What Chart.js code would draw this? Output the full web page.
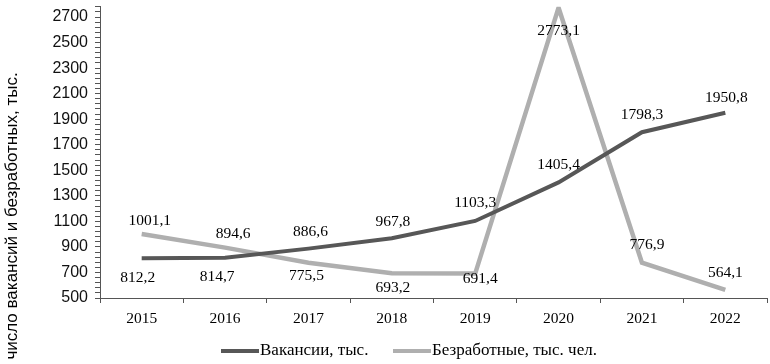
<!DOCTYPE html>
<html>
<head>
<meta charset="utf-8">
<script src="https://cdn.jsdelivr.net/npm/chart.js@4.4.1/dist/chart.umd.min.js"></script>
<style>
html,body{margin:0;padding:0;background:#fff;}
#wrap{width:770px;height:364px;position:relative;}
</style>
</head>
<body>
<div id="wrap"><canvas id="c" width="770" height="364"></canvas></div>
<script>
const years = ['2015','2016','2017','2018','2019','2020','2021','2022'];
const vacancies = [812.2, 814.7, 886.6, 967.8, 1103.3, 1405.4, 1798.3, 1950.8];
const unemployed = [1001.1, 894.6, 775.5, 693.2, 691.4, 2773.1, 776.9, 564.1];
const seriesNames = ['Вакансии, тыс.', 'Безработные, тыс. чел.'];
const yAxisTitle = 'число вакансий и безработных, тыс.';

const SERIF = "'Liberation Serif', 'Times New Roman', serif";
const SANS = "'Liberation Sans', Arial, sans-serif";
const DARK = '#575757';
const LIGHT = '#afafaf';

// label offsets [dx, dy] relative to point, per dataset
const labelOffsets = [
  [[-4,20],[-8,19],[2,-17],[1,-16],[0,-18],[0,-17],[0,-17],[1,-15]],
  [[8,-13],[8,-14],[-2,13],[1,15],[5,5],[0,23],[5,-18],[0,-17]]
];

function fmt(v){ return v.toFixed(1).replace('.', ','); }

const labelPlugin = {
  id: 'valueLabels',
  afterDatasetsDraw(chart){
    const ctx = chart.ctx;
    ctx.save();
    ctx.font = '15.5px ' + SERIF;
    ctx.fillStyle = '#000';
    ctx.textAlign = 'center';
    ctx.textBaseline = 'middle';
    chart.data.datasets.forEach((ds, di) => {
      const meta = chart.getDatasetMeta(di);
      meta.data.forEach((pt, i) => {
        const o = labelOffsets[di][i];
        ctx.fillText(fmt(ds.data[i]), pt.x + o[0], pt.y + o[1]);
      });
    });
    ctx.restore();
  }
};

const decoPlugin = {
  id: 'deco',
  afterDraw(chart){
    const ctx = chart.ctx;
    ctx.save();
    // y axis title
    ctx.translate(12, 216);
    ctx.rotate(-Math.PI/2);
    ctx.font = '17px ' + SANS;
    ctx.fillStyle = '#000';
    ctx.textAlign = 'center';
    ctx.textBaseline = 'middle';
    ctx.fillText(yAxisTitle, 0, 0);
    ctx.restore();
    // legend
    ctx.save();
    ctx.font = '17px ' + SERIF;
    ctx.textBaseline = 'middle';
    ctx.textAlign = 'left';
    const items = [
      {x0:221, x1:259, tx:260, color:DARK, text:seriesNames[0]},
      {x0:393, x1:431, tx:432, color:LIGHT, text:seriesNames[1]}
    ];
    items.forEach(it => {
      ctx.strokeStyle = it.color;
      ctx.lineWidth = 4;
      ctx.beginPath();
      ctx.moveTo(it.x0, 351);
      ctx.lineTo(it.x1, 351);
      ctx.stroke();
      ctx.fillStyle = '#000';
      ctx.fillText(it.text, it.tx, 351);
    });
    ctx.restore();
  }
};

new Chart(document.getElementById('c'), {
  type: 'line',
  data: {
    labels: years,
    datasets: [
      {label: seriesNames[0], data: vacancies, borderColor: DARK, backgroundColor: DARK, borderWidth: 4, pointRadius: 0, tension: 0},
      {label: seriesNames[1], data: unemployed, borderColor: LIGHT, backgroundColor: LIGHT, borderWidth: 4.5, pointRadius: 0, tension: 0}
    ]
  },
  options: {
    responsive: false,
    animation: false,
    layout: {padding: {top: 6.8, right: 3, bottom: 0, left: 0}},
    plugins: {legend: {display: false}, tooltip: {enabled: false}, title: {display: false}},
    scales: {
      x: {
        type: 'category',
        offset: true,
        grid: {offset: true, drawOnChartArea: false, drawTicks: true, tickLength: 5, color: '#555', lineWidth: 1},
        border: {display: true, color: '#555', width: 1},
        ticks: {font: {family: SERIF, size: 15.5}, color: '#000', padding: 7, maxRotation: 0, autoSkip: false},
        afterFit(s){ s.height = 66; s.paddingLeft = 0; s.paddingRight = 0; }
      },
      y: {
        type: 'linear',
        min: 500,
        max: 2780,
        grid: {drawOnChartArea: false, drawTicks: true, tickLength: 5, color: '#555', lineWidth: 1},
        border: {display: true, color: '#555', width: 1},
        ticks: {
          stepSize: 40,
          maxTicksLimit: 200,
          autoSkip: false,
          padding: 7,
          font: {family: SANS, size: 16},
          color: '#111',
          callback: v => ((v - 500) % 200 === 0 && v <= 2700) ? String(v) : ''
        },
        afterFit(s){ s.width = 100; s.paddingTop = 0; s.paddingBottom = 0; }
      }
    }
  },
  plugins: [labelPlugin, decoPlugin]
});
</script>
</body>
</html>
